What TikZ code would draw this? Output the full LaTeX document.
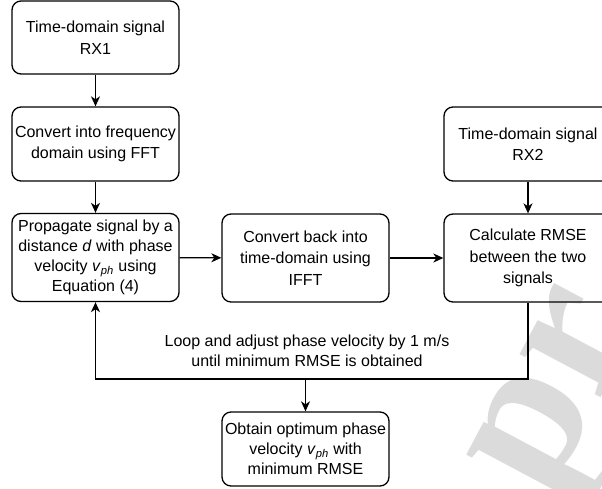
\documentclass[tikz,border=0pt]{standalone}
\usepackage{fontspec}
\setmainfont{Liberation Sans}
\newfontfamily\wmfont{Liberation Serif}
\usetikzlibrary{arrows.meta}
\begin{document}
\begin{tikzpicture}[x=1pt,y=-1pt,
  box/.style={draw, line width=1.3pt, rounded corners=9pt, align=center,
    font=\fontsize{16}{21.5}\selectfont, inner sep=0pt,
    minimum width=167pt, minimum height=74pt},
  arr/.style={line width=1.3pt, -{Stealth[length=10pt,width=9pt,inset=3pt]}},
  wire/.style={line width=1.3pt}]
\useasboundingbox (0,0) rectangle (602,489);
\clip (0,0) rectangle (602,489);
% watermark
\node[rotate=62, text=black!14, inner sep=0pt,
  font=\wmfont\bfseries\fontsize{200}{200}\selectfont] (wm) at (570,400) {pr};
% boxes
\node[box, minimum height=73pt] (b1) at (95.5,37.5) {Time-domain signal\\RX1};
\node[box] (b2) at (95.5,144) {Convert into frequency\\domain using FFT};
\node[box, minimum height=88pt, font=\fontsize{16}{19.8}\selectfont] (b3) at (95.5,257.5)
  {Propagate signal by a\\distance \textit{d} with phase\\velocity \textit{v}\textsubscript{\textit{ph}} using\\Equation (4)};
\node[box, minimum height=88pt] (b4) at (305.5,258) {Convert back into\\time-domain using\\IFFT};
\node[box, minimum height=88pt, minimum width=168pt] (b5) at (528,258) {Calculate RMSE\\between the two\\signals};
\node[box, minimum width=168pt] (rx2) at (528,144) {Time-domain signal\\RX2};
\node[box, font=\fontsize{16}{20}\selectfont] (b6) at (305.5,449)
  {Obtain optimum phase\\velocity \textit{v}\textsubscript{\textit{ph}} with\\minimum RMSE};
% loop label
\node[align=center, inner sep=0pt, font=\fontsize{16}{20.5}\selectfont] (lbl) at (307,351)
  {Loop and adjust phase velocity by 1 m/s\\until minimum RMSE is obtained};
% connectors
\coordinate (tap) at (305.5,379);
\draw[arr] (b1) -- (b2);
\draw[arr] (b2) -- (b3);
\draw[arr] (b3) -- (b4);
\draw[arr] (b4) -- (b5);
\draw[arr] (rx2) -- (b5);
\draw[arr] (b5.south) -- (528,379) -| (b3.south);
\draw[arr] (tap) -- (b6.north);
\end{tikzpicture}
\end{document}
